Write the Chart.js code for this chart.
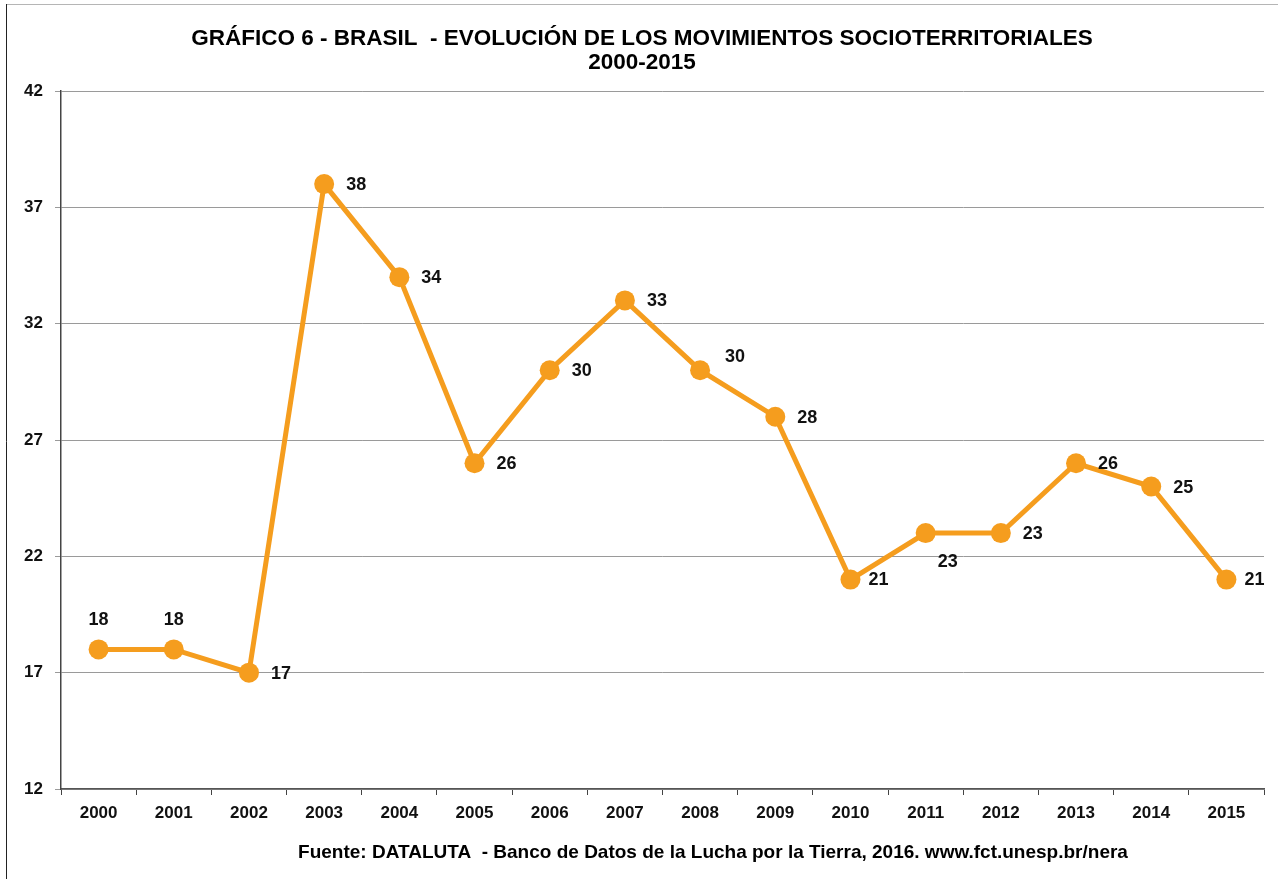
<!DOCTYPE html>
<html lang="es">
<head>
<meta charset="utf-8">
<title>Brasil - Evolución de los movimientos socioterritoriales 2000-2015</title>
<script src="https://cdn.jsdelivr.net/npm/chart.js@4.4.1/dist/chart.umd.min.js"></script>
<style>
  html, body { margin: 0; padding: 0; background: #ffffff; }
  #wrap { width: 1278px; height: 879px; position: relative; }
</style>
</head>
<body>
<div id="wrap"><canvas id="chart" width="1278" height="879"></canvas></div>
<script>
// Series: number of socio-territorial movements per year
const years = ['2000','2001','2002','2003','2004','2005','2006','2007',
               '2008','2009','2010','2011','2012','2013','2014','2015'];
const movimientos = [18, 18, 17, 38, 34, 26, 30, 33, 30, 28, 21, 23, 23, 26, 25, 21];
const yTicks = [12, 17, 22, 27, 32, 37, 42];

const titleLines = ['GRÁFICO 6 - BRASIL  - EVOLUCIÓN DE LOS MOVIMIENTOS SOCIOTERRITORIALES', '2000-2015'];
const footerText = 'Fuente: DATALUTA  - Banco de Datos de la Lucha por la Tierra, 2016. www.fct.unesp.br/nera';

const FONT = '"Liberation Sans", Arial, Helvetica, sans-serif';
const ORANGE = '#F59D1E';

// Where each value label sits relative to its point
function labelPlacement(i) {
  if (i === 0 || i === 1) return { dx: 0, dy: -29, align: 'center' };
  if (i === 8) return { dx: 25, dy: -13, align: 'left' };
  if (i === 11) return { dx: 12, dy: 29, align: 'left' };
  if (i === 10 || i === 15) return { dx: 18, dy: 0, align: 'left' };
  return { dx: 22, dy: 1, align: 'left' };
}

const decorations = {
  id: 'decorations',
  beforeDraw(chart) {
    const c = chart.ctx;
    c.save();
    c.fillStyle = '#ffffff';
    c.fillRect(0, 0, chart.width, chart.height);
    // frame
    c.strokeStyle = '#b5b5b5';
    c.lineWidth = 1;
    c.beginPath();
    c.moveTo(6, 4.5);
    c.lineTo(chart.width, 4.5);
    c.stroke();
    c.strokeStyle = '#222222';
    c.beginPath();
    c.moveTo(6.5, 4);
    c.lineTo(6.5, chart.height);
    c.stroke();
    c.restore();
  },
  afterDraw(chart) {
    const c = chart.ctx;
    c.save();
    c.fillStyle = '#000000';
    c.textAlign = 'center';
    c.textBaseline = 'middle';
    c.font = 'bold 22.5px ' + FONT;
    c.fillText(titleLines[0], 642, 39);
    c.fillText(titleLines[1], 642, 63);
    c.font = 'bold 19px ' + FONT;
    c.fillText(footerText, 713, 853);

    // value labels
    const meta = chart.getDatasetMeta(0);
    c.font = 'bold 18px ' + FONT;
    c.fillStyle = '#111111';
    meta.data.forEach((pt, i) => {
      const p = labelPlacement(i);
      c.textAlign = p.align;
      c.fillText(String(movimientos[i]), pt.x + p.dx, pt.y + p.dy);
    });
    c.restore();
  }
};

new Chart(document.getElementById('chart'), {
  type: 'line',
  data: {
    labels: years,
    datasets: [{
      data: movimientos,
      borderColor: ORANGE,
      backgroundColor: ORANGE,
      borderWidth: 5,
      pointRadius: 10,
      pointHoverRadius: 10,
      pointBackgroundColor: ORANGE,
      pointBorderColor: ORANGE,
      pointBorderWidth: 0,
      tension: 0,
      fill: false
    }]
  },
  options: {
    responsive: false,
    animation: false,
    devicePixelRatio: 1,
    layout: { padding: { top: 91, right: 14, bottom: 0, left: 0 } },
    plugins: {
      legend: { display: false },
      title: { display: false },
      tooltip: { enabled: false }
    },
    scales: {
      x: {
        type: 'category',
        offset: true,
        afterFit(scale) { scale.height = 90; },
        grid: {
          display: true,
          drawOnChartArea: false,
          drawTicks: true,
          tickLength: 6,
          color: '#444444',
          offset: true
        },
        border: { display: true, color: '#555555', width: 1.5 },
        ticks: {
          color: '#111111',
          padding: 8,
          font: { family: FONT, size: 17, weight: 'bold' },
          maxRotation: 0,
          autoSkip: false
        }
      },
      y: {
        min: 12,
        max: 42,
        afterFit(scale) { scale.width = 61; },
        afterBuildTicks(scale) { scale.ticks = yTicks.map(v => ({ value: v })); },
        grid: {
          color: '#9a9a9a',
          lineWidth: 1,
          drawTicks: true,
          tickLength: 6
        },
        border: { display: true, color: '#444444', width: 1.5 },
        ticks: {
          color: '#111111',
          padding: 12,
          font: { family: FONT, size: 17, weight: 'bold' }
        }
      }
    }
  },
  plugins: [decorations]
});
</script>
</body>
</html>
